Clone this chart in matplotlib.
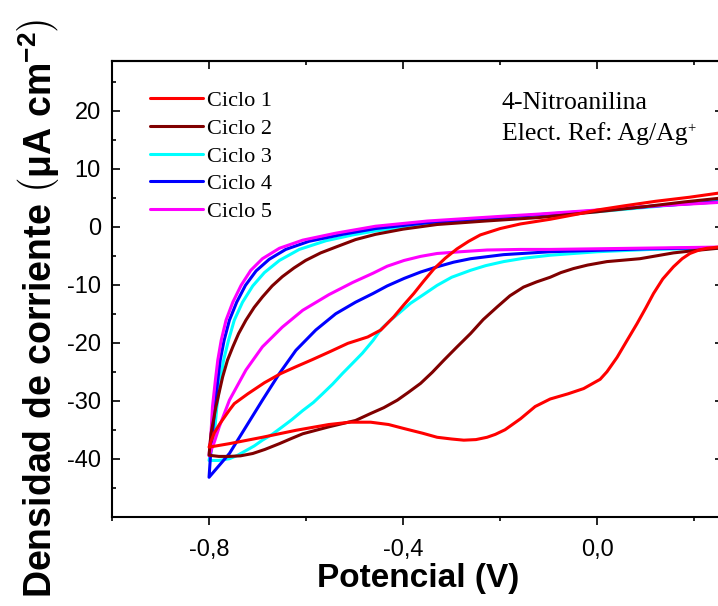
import numpy as np
import matplotlib.pyplot as plt

plt.rcParams['font.family'] = 'Liberation Sans'
plt.rcParams['axes.unicode_minus'] = False
plt.rcParams['mathtext.fontset'] = 'custom'
plt.rcParams['mathtext.rm'] = 'Liberation Sans:bold'
plt.rcParams['mathtext.bf'] = 'Liberation Sans:bold'
plt.rcParams['mathtext.it'] = 'Liberation Sans:bold:italic'

# cada ciclo: rama a (de 0,27 V hacia -0,8 V) y rama b (de -0,8 V de vuelta)
# Ciclo 1
c1_xa = [0.27, 0.249, 0.226, 0.21, 0.191, 0.175, 0.157, 0.135, 0.116, 0.1, 0.082, 0.06,
         0.041, 0.02, 0.006, -0.028, -0.06, -0.097, -0.128, -0.158, -0.19, -0.21,
         -0.227, -0.25, -0.275, -0.3, -0.33, -0.36, -0.398, -0.43, -0.467, -0.51,
         -0.553, -0.621, -0.69, -0.758, -0.8]
c1_ya = [-3.4, -3.5, -3.7, -4.0, -4.6, -5.5, -6.9, -9.0, -11.5, -14.0, -16.7, -19.8,
         -22.5, -25.0, -26.3, -27.9, -28.8, -29.7, -31.0, -33.1, -35.0, -35.8,
         -36.3, -36.7, -36.8, -36.6, -36.3, -35.6, -34.8, -34.1, -33.7, -33.7,
         -34.1, -35.1, -36.3, -37.4, -38.0]
c1_xb = [-0.8, -0.795, -0.789, -0.778, -0.768, -0.758, -0.748, -0.72, -0.686, -0.652,
         -0.62, -0.587, -0.55, -0.514, -0.473, -0.446, -0.419, -0.398, -0.378, -0.358,
         -0.337, -0.313, -0.289, -0.265, -0.241, -0.2, -0.158, -0.097, -0.04, 0.0,
         0.054, 0.12, 0.19, 0.249, 0.27]
c1_yb = [-38.0, -36.8, -35.5, -34.0, -32.8, -31.6, -30.5, -28.8, -26.9, -25.3,
         -24.1, -22.9, -21.5, -20.1, -19.0, -17.8, -15.5, -13.4, -11.5, -9.4,
         -7.3, -5.4, -3.8, -2.5, -1.4, -0.3, 0.5, 1.3, 2.2, 2.9,
         3.6, 4.4, 5.1, 5.8, 6.0]

# Ciclo 2
c2_xa = [0.27, 0.249, 0.2, 0.157, 0.088, 0.02, -0.02, -0.049, -0.075, -0.097, -0.125,
         -0.152, -0.18, -0.206, -0.235, -0.261, -0.29, -0.316, -0.34, -0.364, -0.39,
         -0.412, -0.44, -0.467, -0.498, -0.553, -0.607, -0.63, -0.655, -0.685, -0.71,
         -0.735, -0.758, -0.78, -0.8]
c2_ya = [-3.6, -3.7, -4.1, -4.5, -5.5, -6.0, -6.6, -7.2, -7.9, -8.7, -9.5,
         -10.4, -11.9, -13.8, -16.0, -18.4, -20.8, -23.0, -25.1, -27.0, -28.6,
         -29.9, -31.2, -32.2, -33.4, -34.5, -35.7, -36.5, -37.4, -38.4, -39.1,
         -39.5, -39.6, -39.6, -39.4]
c2_xb = [-0.8, -0.796, -0.786, -0.779, -0.772, -0.762, -0.751, -0.739, -0.724, -0.707,
         -0.69, -0.67, -0.649, -0.625, -0.601, -0.57, -0.539, -0.498, -0.457, -0.4,
         -0.33, -0.23, -0.12, 0.0, 0.1, 0.18, 0.249, 0.27]
c2_yb = [-39.4, -35.7, -31.1, -28.5, -25.9, -23.0, -20.7, -18.4, -16.1, -13.9,
         -12.1, -10.2, -8.6, -7.1, -5.8, -4.5, -3.5, -2.2, -1.3, -0.4,
         0.4, 1.0, 1.6, 2.6, 3.5, 4.3, 4.9, 5.1]

# Ciclo 3
c3_xa = [0.27, 0.249, 0.11, 0.0, -0.049, -0.097, -0.15, -0.193, -0.23, -0.261, -0.3,
         -0.33, -0.36, -0.385, -0.41, -0.426, -0.445, -0.462, -0.484, -0.505, -0.525,
         -0.545, -0.566, -0.585, -0.607, -0.63, -0.649, -0.67, -0.69, -0.707, -0.724,
         -0.741, -0.758, -0.78, -0.8]
c3_ya = [-3.6, -3.7, -3.9, -4.3, -4.6, -4.9, -5.4, -6.0, -6.7, -7.5, -8.7,
         -10.1, -11.8, -13.2, -15.0, -16.1, -17.6, -19.6, -21.8, -23.6, -25.3,
         -27.1, -28.8, -30.3, -31.7, -33.3, -34.5, -35.8, -36.8, -37.8, -38.6,
         -39.4, -40.0, -40.3, -40.3]
c3_xb = [-0.8, -0.794, -0.789, -0.784, -0.777, -0.77, -0.76, -0.748, -0.731, -0.71,
         -0.686, -0.655, -0.614, -0.559, -0.504, -0.457, -0.35, -0.2, -0.12, 0.0,
         0.12, 0.249, 0.27]
c3_yb = [-40.3, -37.8, -35.7, -31.1, -26.5, -23.0, -19.6, -16.1, -13.0, -10.2,
         -7.9, -5.8, -3.9, -2.4, -1.4, -0.7, 0.4, 1.4, 1.9, 2.6,
         3.5, 4.5, 4.7]

# Ciclo 4
c4_xa = [0.27, 0.249, 0.1, -0.097, -0.193, -0.261, -0.296, -0.33, -0.364, -0.398,
         -0.433, -0.462, -0.498, -0.539, -0.58, -0.621, -0.655, -0.69, -0.724, -0.758, -0.8]
c4_ya = [-3.5, -3.6, -3.8, -4.3, -4.8, -5.5, -6.1, -6.9, -7.8, -8.9,
         -10.2, -11.5, -13.0, -15.0, -17.8, -21.3, -25.3, -29.9, -34.5, -39.1, -43.2]
c4_xb = [-0.8, -0.797, -0.793, -0.788, -0.782, -0.777, -0.769, -0.758, -0.743, -0.725,
         -0.703, -0.676, -0.642, -0.594, -0.525, -0.457, -0.35, -0.2, -0.12, 0.0,
         0.12, 0.249, 0.27]
c4_yb = [-43.2, -39.5, -35.7, -31.1, -26.5, -23.0, -19.6, -16.1, -13.0, -10.1,
         -7.6, -5.6, -3.9, -2.5, -1.3, -0.3, 0.7, 1.6, 2.1, 2.8,
         3.6, 4.3, 4.5]

# Ciclo 5
c5_xa = [0.27, 0.249, -0.097, -0.158, -0.227, -0.282, -0.33, -0.364, -0.398, -0.433,
         -0.462, -0.504, -0.553, -0.607, -0.649, -0.69, -0.724, -0.758, -0.768, -0.779,
         -0.789, -0.8]
c5_ya = [-3.5, -3.5, -3.9, -3.9, -4.0, -4.3, -4.6, -5.1, -5.8, -6.8,
         -8.0, -9.6, -11.7, -14.4, -17.3, -20.7, -24.7, -29.9, -32.1, -34.5,
         -37.1, -39.5]
c5_xb = [-0.8, -0.796, -0.793, -0.787, -0.782, -0.775, -0.765, -0.751, -0.734, -0.714,
         -0.69, -0.655, -0.607, -0.539, -0.457, -0.35, -0.2, -0.12, 0.0, 0.12,
         0.249, 0.27]
c5_yb = [-39.5, -35.7, -31.1, -26.5, -23.0, -19.6, -16.1, -13.0, -10.1, -7.5,
         -5.5, -3.7, -2.3, -1.1, 0.1, 1.0, 1.8, 2.2, 2.9, 3.6,
         4.2, 4.4]

labels = ['Ciclo 1', 'Ciclo 2', 'Ciclo 3', 'Ciclo 4', 'Ciclo 5']
colors = ['#ff0000', '#800000', '#00ffff', '#0000ff', '#ff00ff']

xticks = [-0.8, -0.4, 0.0]
xticklabels = ['-0,8', '-0,4', '0,0']
xminor = [-1.0, -0.6, -0.2, 0.2]
yticks = [-40, -30, -20, -10, 0, 10, 20]
yminor = [-45, -35, -25, -15, -5, 5, 15, 25]

fig = plt.figure(figsize=(7.18, 6.06), dpi=100)
ax = fig.add_axes([112 / 718, 89.3 / 606, 611.4 / 718, 455.7 / 606])

ciclos = [(c1_xa + c1_xb, c1_ya + c1_yb), (c2_xa + c2_xb, c2_ya + c2_yb),
          (c3_xa + c3_xb, c3_ya + c3_yb), (c4_xa + c4_xb, c4_ya + c4_yb),
          (c5_xa + c5_xb, c5_ya + c5_yb)]
zs = [7, 6, 3, 4, 5]
for (x, y), c, lab, z in zip(ciclos, colors, labels, zs):
    ax.plot(x, y, color=c, lw=2.2, label=lab, zorder=z,
            solid_joinstyle='round', solid_capstyle='round')

ax.set_xlim(-1.0, 0.26)
ax.set_ylim(-50, 28.6)

ax.set_xticks(xticks, xticklabels)
ax.set_xticks(xminor, minor=True)
ax.set_yticks(yticks, [str(v) for v in yticks])
ax.set_yticks(yminor, minor=True)

for s in ax.spines.values():
    s.set_linewidth(1.5)

ax.tick_params(axis='x', which='both', direction='out', top=False, width=1.2)
ax.tick_params(axis='x', which='major', length=5.8, pad=10, labelsize=17)
ax.tick_params(axis='x', which='minor', length=3)
ax.tick_params(axis='y', which='both', direction='in', right=True, width=1.2)
ax.tick_params(axis='y', which='major', length=5.8, pad=8, labelsize=17)
ax.tick_params(axis='y', which='minor', length=3)

top = ax.secondary_xaxis('top')
top.set_xticks(xticks, ['', '', ''])
top.set_xticks(xminor, minor=True)
top.tick_params(which='both', direction='in', width=1.2)
top.tick_params(which='major', length=5.8)
top.tick_params(which='minor', length=3)
top.spines['top'].set_linewidth(1.5)

ax.set_xlabel('Potencial (V)', fontsize=24, fontweight='bold', labelpad=2)
fig.text(51 / 718, 8 / 606, r'Densidad de corriente $\left(\mathrm{μA\ cm^{-2}}\right)$',
         rotation=90, rotation_mode='anchor', ha='left', va='baseline',
         fontsize=27, fontweight='bold')

ax.legend(loc='upper left', bbox_to_anchor=(0.062, 0.935), frameon=False,
          borderpad=0, borderaxespad=0, handlelength=2.4, handletextpad=0.15,
          labelspacing=0.32, prop={'family': 'Liberation Serif', 'size': 16})

ax.text(0.6374, 0.8947, '4-Nitroanilina', transform=ax.transAxes,
        family='Liberation Serif', fontsize=18.5, va='baseline')
t2 = ax.text(0.6374, 0.8266, 'Elect. Ref: Ag/Ag', transform=ax.transAxes,
             family='Liberation Serif', fontsize=18.5, va='baseline')
ax.annotate('+', xy=(1.0, 1.0), xycoords=t2, family='Liberation Serif',
            fontsize=10.5, ha='left', va='top')

fig.savefig('out.png', dpi=100)
